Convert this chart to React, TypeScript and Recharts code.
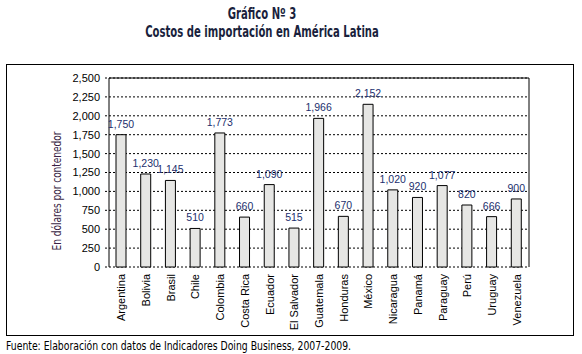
import React from 'react'
import { BarChart, Bar, XAxis, YAxis, CartesianGrid, LabelList, ReferenceLine } from 'recharts'

const countries = [
  'Argentina', 'Bolivia', 'Brasil', 'Chile', 'Colombia', 'Costa Rica', 'Ecuador', 'El Salvador',
  'Guatemala', 'Honduras', 'México', 'Nicaragua', 'Panamá', 'Paraguay', 'Perú', 'Uruguay', 'Venezuela'
]
const costs = [1750, 1230, 1145, 510, 1773, 660, 1090, 515, 1966, 670, 2152, 1020, 920, 1077, 820, 666, 900]
const yTicks = [0, 250, 500, 750, 1000, 1250, 1500, 1750, 2000, 2250, 2500]
const boundaries = countries.map((_, i) => i).concat(countries.length)

const narrow = '"Liberation Sans Narrow", "DejaVu Sans Condensed", "Liberation Sans", sans-serif'
const sans = '"Liberation Sans", Arial, sans-serif'

const data = countries.map((country, i) => ({ country, cost: costs[i] }))

const fmt = (v: number) => new Intl.NumberFormat('en-US').format(v)

// rotated category labels, reading bottom to top
const CountryTick = ({ x, y, payload }: any) => (
  <g transform={`translate(${x},${y})`}>
    <text transform="rotate(-90)" textAnchor="end" dy={4} fontSize={11} fontFamily={sans} fill="#000">
      {payload.value}
    </text>
  </g>
)

const YTitle = () => (
  <text
    x={0}
    y={0}
    transform="translate(51,126) rotate(-90) scale(0.8,1)"
    textAnchor="middle"
    dominantBaseline="middle"
    fontSize={12.5}
    fontFamily={narrow}
    fill="#3a1f45"
  >
    En dólares por contenedor
  </text>
)

export default function App() {
  return (
    <div style={{ position: 'absolute', left: 0, top: 0, width: 582, height: 354, background: '#fff' }}>
      <div
        style={{
          position: 'absolute',
          left: 62,
          top: 5,
          width: 400,
          textAlign: 'center',
          fontFamily: narrow,
          fontWeight: 'bold',
          fontSize: 16,
          lineHeight: '18px',
          color: '#1a1f3d',
          transform: 'scaleX(0.7)',
          transformOrigin: '200px 0'
        }}
      >
        <div>Gráfico Nº 3</div>
        <div>Costos de importación en América Latina</div>
      </div>

      <div
        style={{
          position: 'absolute',
          left: 6,
          top: 64,
          width: 568,
          height: 272,
          border: '1px solid #000',
          boxSizing: 'border-box'
        }}
      >
        <BarChart
          width={566}
          height={270}
          data={data}
          margin={{ top: 13, right: 0, left: 0, bottom: 0 }}
          barSize={10}
        >
          <CartesianGrid vertical={false} stroke="#000" strokeDasharray="2 2" />
          <XAxis
            xAxisId="b"
            type="number"
            domain={[0, countries.length]}
            ticks={boundaries}
            allowDataOverflow
            tick={false}
            tickSize={6}
            height={0}
            axisLine={{ stroke: '#000' }}
            tickLine={{ stroke: '#000' }}
          />
          <XAxis
            dataKey="country"
            interval={0}
            height={68}
            axisLine={false}
            tickLine={false}
            tickSize={0}
            tickMargin={7}
            tick={<CountryTick />}
          />
          <YAxis
            width={102}
            domain={[0, 2500]}
            ticks={yTicks}
            interval={0}
            tickFormatter={fmt}
            tickSize={4}
            tickMargin={5}
            axisLine={{ stroke: '#000' }}
            tickLine={{ stroke: '#000', strokeDasharray: '2 2' }}
            tick={{ fill: '#000', fontSize: 11, fontFamily: sans }}
            label={{ content: <YTitle /> }}
          />
          <YAxis
            yAxisId="r"
            orientation="right"
            width={44}
            domain={[0, 2500]}
            tick={false}
            tickLine={false}
            axisLine={{ stroke: '#000' }}
          />
          <ReferenceLine y={2500} stroke="#000" />
          <Bar dataKey="cost" fill="#e6e6e4" stroke="#000" strokeWidth={1} isAnimationActive={false}>
            <LabelList
              dataKey="cost"
              position="top"
              offset={7}
              formatter={(v: any) => fmt(Number(v))}
              fill="#1c2f6e"
              fontSize={10.5}
              fontFamily={sans}
            />
          </Bar>
        </BarChart>
      </div>

      <div
        style={{
          position: 'absolute',
          left: 6,
          top: 339,
          fontFamily: narrow,
          fontSize: 12,
          lineHeight: '14px',
          color: '#000',
          whiteSpace: 'nowrap',
          transform: 'scaleX(0.86)',
          transformOrigin: '0 0'
        }}
      >
        Fuente: Elaboración con datos de Indicadores Doing Business, 2007-2009.
      </div>
    </div>
  )
}
